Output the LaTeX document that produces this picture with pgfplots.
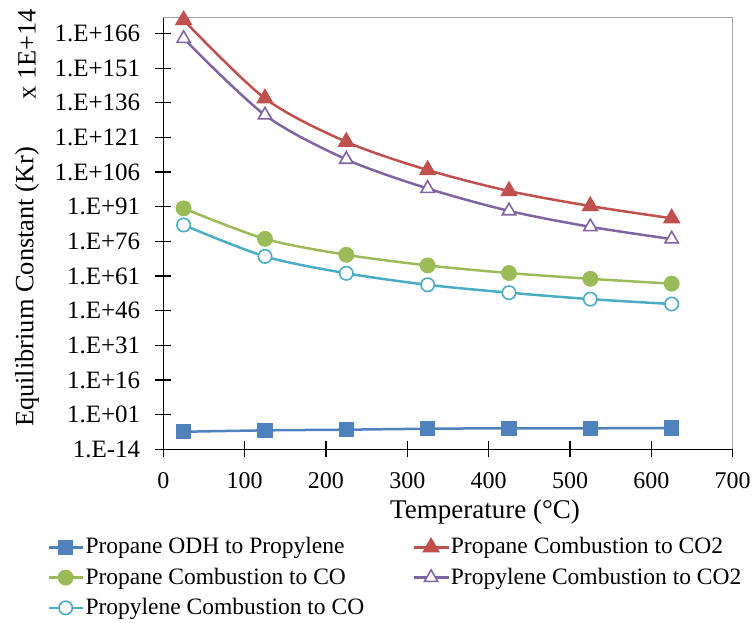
\documentclass[border=0pt]{standalone}
\usepackage{fontspec}
\setmainfont{Liberation Serif}
\usepackage{pgfplots}
\pgfplotsset{compat=1.18}
\definecolor{cblue}{HTML}{4F81BD}
\definecolor{cred}{HTML}{C0504D}
\definecolor{cgreen}{HTML}{9BBB59}
\definecolor{cpurple}{HTML}{8064A2}
\definecolor{ccyan}{HTML}{4BACC6}
\definecolor{framegray}{HTML}{A6A6A6}
\begin{document}
\begin{tikzpicture}
\begin{axis}[
  name=ax,
  scale only axis,
  width=284.7pt, height=216pt,
  clip=false,
  axis lines=left,
  axis line style={-, black, line width=0.6pt},
  xmin=0, xmax=700, xtick={0,100,...,700},
  ymode=log, log basis y=10,
  ymin=1e-14, ymax=1e173,
  ytick={1e-14,1e1,1e16,1e31,1e46,1e61,1e76,1e91,1e106,1e121,1e136,1e151,1e166},
  yticklabels={1.E-14,1.E+01,1.E+16,1.E+31,1.E+46,1.E+61,1.E+76,1.E+91,1.E+106,1.E+121,1.E+136,1.E+151,1.E+166},
  yminorticks=false, xminorticks=false,
  tick align=center,
  major tick length=8pt,
  tick style={black, line width=0.6pt},
  /pgf/number format/assume math mode=true,
  xticklabel style={font=\fontsize{12}{14}\selectfont, yshift=-4pt},
  yticklabel style={font=\fontsize{12.5}{14}\selectfont, xshift=-4pt},
  every axis plot/.append style={line width=1.25pt, smooth, tension=0.5},
  legend columns=2,
  legend cell align=left,
  legend style={at={(axis description cs:-0.2043,-0.2)}, anchor=north west,
    draw=none, fill=none, inner sep=0pt, row sep=4pt,
    font=\fontsize{11.75}{14}\selectfont,
    nodes={inner sep=0.75pt},
    /tikz/every even column/.append style={column sep=23.5pt}},
]
\addplot[cblue, mark=square*, mark size=3.2pt, mark options={solid, fill=cblue}] coordinates {
  (25,3.98e-7) (125,1.58e-6) (225,3.16e-6) (325,7.94e-6) (425,1.26e-5) (525,1.26e-5) (625,1.58e-5)};
\addlegendentry{Propane ODH to Propylene}
\addplot[cred, mark=triangle*, mark size=3.85pt, mark options={solid, fill=cred}] coordinates {
  (25,6.3e171) (125,7.9e137) (225,1.26e119) (325,7.9e106) (425,6.3e97) (525,2e91) (625,1e86)};
\addlegendentry{Propane Combustion to CO2}
\addplot[cgreen, mark=*, mark size=3.35pt, mark options={solid, fill=cgreen}] coordinates {
  (25,2e90) (125,1.26e77) (225,1.58e70) (325,3.98e65) (425,2e62) (525,6.3e59) (625,5e57)};
\addlegendentry{Propane Combustion to CO}
\addplot[cpurple, mark=triangle*, mark size=3.85pt, mark options={solid, fill=white, draw=cpurple, line width=0.8pt}] coordinates {
  (25,6.3e163) (125,5e130) (225,3.16e111) (325,7.9e98) (425,1.58e89) (525,2e82) (625,1e77)};
\addlegendentry{Propylene Combustion to CO2}
\addplot[ccyan, mark=*, mark size=3.35pt, mark options={solid, fill=white, draw=ccyan, line width=0.8pt}] coordinates {
  (25,1.26e83) (125,3.16e69) (225,1.58e62) (325,1.58e57) (425,6.3e53) (525,1e51) (625,7.9e48)};
\addlegendentry{Propylene Combustion to CO}
\draw[framegray, line width=0.6pt] (rel axis cs:0,1) -- (rel axis cs:1,1) -- (rel axis cs:1,0);
\node[rotate=90, font=\fontsize{13.2}{15}\selectfont] at (axis description cs:-0.2394,0.376) {Equilibrium Constant (Kr)};
\node[rotate=90, font=\fontsize{13.2}{15}\selectfont] at (axis description cs:-0.2394,0.915) {x 1E+14};
\node[font=\fontsize{13.5}{15}\selectfont] at (axis description cs:0.565,-0.145) {Temperature (\textdegree C)};
\end{axis}
\pgfresetboundingbox
\path[use as bounding box] ([shift={(-81.65pt,-86.35pt)}]ax.south west) rectangle ([shift={(10.65pt,8.65pt)}]ax.north east);
\end{tikzpicture}
\end{document}
